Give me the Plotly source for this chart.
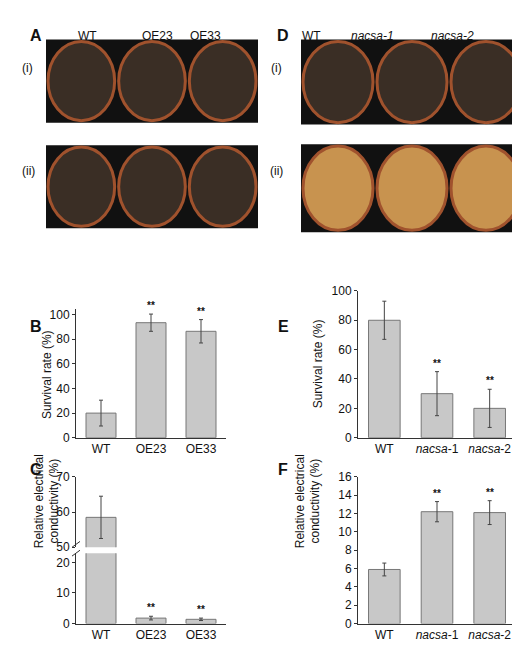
import plotly.graph_objects as go

W, H = 520, 650

# panel B: survival, overexpression lines
b_cats = ["WT", "OE23", "OE33"]
b_vals = [20, 93.5, 86.5]
b_err = [10.5, 7, 9.5]
b_sig = ["", "**", "**"]

# panel C: relative electrical conductivity, overexpression lines
c_cats = ["WT", "OE23", "OE33"]
c_vals = [58.5, 1.8, 1.4]
c_err = [6, 0.6, 0.4]
c_sig = ["", "**", "**"]

# panel E: survival, mutants
e_cats = ["WT", "<i>nacsa</i>-1", "<i>nacsa</i>-2"]
e_vals = [80, 30, 20]
e_err = [13, 15, 13]
e_sig = ["", "**", "**"]

# panel F: relative electrical conductivity, mutants
f_cats = ["WT", "<i>nacsa</i>-1", "<i>nacsa</i>-2"]
f_vals = [5.9, 12.2, 12.1]
f_err = [0.7, 1.1, 1.3]
f_sig = ["", "**", "**"]

FONT = "Liberation Sans, Arial, sans-serif"
BAR = "#c8c8c8"


def px_x(p):
    return p / W


def px_y(p):
    return 1 - p / H


def bar(cats, vals, err, xa, ya):
    return go.Bar(
        x=cats, y=vals, xaxis=xa, yaxis=ya, width=0.6,
        marker=dict(color=BAR, line=dict(color="#777", width=1)),
        error_y=dict(type="data", array=err, color="#444", thickness=1, width=2),
        showlegend=False, hoverinfo="skip",
    )


fig = go.Figure()
fig.add_trace(bar(b_cats, b_vals, b_err, "x", "y"))
fig.add_trace(bar(c_cats, c_vals, c_err, "x2", "y2"))
fig.add_trace(bar(c_cats, c_vals, c_err, "x3", "y3"))
fig.add_trace(bar(e_cats, e_vals, e_err, "x4", "y4"))
fig.add_trace(bar(f_cats, f_vals, f_err, "x5", "y5"))

ax_common = dict(showline=True, linecolor="#333", linewidth=1, ticks="outside",
                 ticklen=3, tickcolor="#333", showgrid=False, zeroline=False,
                 tickfont=dict(size=12, color="#111"))
xax = {**ax_common, "ticks": ""}
xl = [px_x(68), px_x(218)]
xr = [px_x(350), px_x(508)]

fig.update_layout(
    width=W, height=H, margin=dict(l=0, r=0, t=0, b=0),
    paper_bgcolor="white", plot_bgcolor="white",
    font=dict(family=FONT, color="#111"),
    xaxis=dict(domain=xl, anchor="y", **xax),
    yaxis=dict(domain=[px_y(432), px_y(300)], range=[0, 105], tickvals=[0, 20, 40, 60, 80, 100], anchor="x", **ax_common),
    xaxis2=dict(domain=xl, anchor="y2", **xax),
    yaxis2=dict(domain=[px_y(622), px_y(550)], range=[0, 23], tickvals=[0, 10, 20], anchor="x2", **ax_common),
    xaxis3=dict(domain=xl, anchor="y3", visible=False, matches="x2"),
    yaxis3=dict(domain=[px_y(544), px_y(472)], range=[50, 70], dtick=10, anchor="x3", **ax_common),
    xaxis4=dict(domain=xr, anchor="y4", **xax),
    yaxis4=dict(domain=[px_y(432), px_y(282)], range=[0, 100], dtick=20, anchor="x4", **ax_common),
    xaxis5=dict(domain=xr, anchor="y5", **xax),
    yaxis5=dict(domain=[px_y(622), px_y(472)], range=[0, 16], dtick=2, anchor="x5", **ax_common),
)

# significance stars above error bars
for cats, vals, err, sig, xa, ya in [
    (b_cats, b_vals, b_err, b_sig, "x", "y"),
    (c_cats, c_vals, c_err, c_sig, "x2", "y2"),
    (e_cats, e_vals, e_err, e_sig, "x4", "y4"),
    (f_cats, f_vals, f_err, f_sig, "x5", "y5"),
]:
    for c, v, e, s in zip(cats, vals, err, sig):
        if s:
            fig.add_annotation(x=c, y=v + e, xref=xa, yref=ya, text="<b>" + s + "</b>",
                               showarrow=False, yanchor="bottom", yshift=1,
                               font=dict(size=10, color="#111"))

# axis break marks on panel C
for y0 in [541, 550]:
    fig.add_shape(type="line", xref="paper", yref="paper",
                  x0=px_x(64), x1=px_x(72), y0=px_y(y0 + 3), y1=px_y(y0 - 3),
                  line=dict(color="#333", width=1))

# photo panels (placeholders for the plant photographs)
photos = [(38, 25, 250, 110), (38, 133, 250, 218), (293, 25, 515, 112), (293, 132, 515, 222)]
soil = ["#3a2e25", "#3a2e25", "#3a2e25", "#c8934f"]
for (x0, y0, x1, y1), sc in zip(photos, soil):
    fig.add_shape(type="rect", xref="paper", yref="paper", x0=px_x(x0), x1=px_x(x1),
                  y0=px_y(y1), y1=px_y(y0), fillcolor="#111", line=dict(width=0), layer="below")
    w = (x1 - x0) / 3
    for i in range(3):
        fig.add_shape(type="circle", xref="paper", yref="paper",
                      x0=px_x(x0 + i * w + 2), x1=px_x(x0 + (i + 1) * w - 2),
                      y0=px_y(y1 - 2), y1=px_y(y0 + 2),
                      fillcolor=sc, line=dict(color="#a0522d", width=3), layer="below")

labels = [
    ("A", 20, 10, 16, True), ("D", 275, 10, 16, True),
    ("B", 20, 318, 16, True), ("C", 20, 475, 16, True),
    ("E", 275, 318, 16, True), ("F", 275, 475, 16, True),
    ("WT", 68, 12, 12, False), ("OE23", 132, 12, 12, False), ("OE33", 197, 12, 12, False),
    ("WT", 303, 12, 12, False), ("<i>nacsa-1</i>", 388, 12, 12, False),
    ("<i>nacsa-2</i>", 468, 12, 12, False),
    ("(i)", 12, 45, 12, False), ("(ii)", 12, 150, 12, False),
    ("(i)", 268, 45, 12, False), ("(ii)", 268, 150, 12, False),
]
for t, x, y, s, b in labels:
    fig.add_annotation(x=px_x(x), y=px_y(y), xref="paper", yref="paper",
                       text=f"<b>{t}</b>" if b else t, showarrow=False,
                       font=dict(size=s, color="#111"))

ytitles = [
    ("Survival rate (%)", 30, 368), ("Relative electrical<br>conductivity (%)", 22, 547),
    ("Survival rate (%)", 310, 357), ("Relative electrical<br>conductivity (%)", 300, 547),
]
for t, x, y in ytitles:
    fig.add_annotation(x=px_x(x), y=px_y(y), xref="paper", yref="paper", text=t,
                       textangle=-90, showarrow=False, font=dict(size=12, color="#111"))

fig.write_html("out.html")
